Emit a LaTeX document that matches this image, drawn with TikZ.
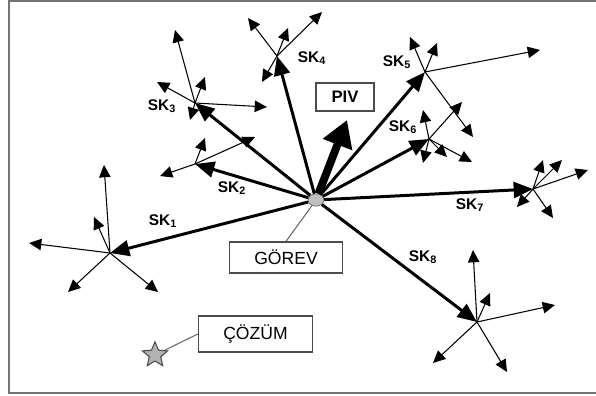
\documentclass[tikz,border=0pt]{standalone}
\usepackage{fontspec}
\setmainfont{Liberation Sans}
\usetikzlibrary{arrows.meta,shapes.geometric}

\begin{document}
\begin{tikzpicture}[x=0.02cm, y=-0.02cm,
    sk/.style={line width=1.7pt, -{Triangle[length=11pt,width=9pt]}},
    spoke/.style={line width=0.6pt, -{Triangle[length=7pt,width=6.5pt]}},
    sklabel/.style={font=\fontsize{8.8}{10}\selectfont\bfseries, inner sep=0},
    box/.style={draw=black!70, line width=0.7pt, font=\fontsize{10}{11}\selectfont, inner sep=0}]
            \useasboundingbox (0,0) rectangle (596,396);
            \draw[black!55, line width=0.8pt] (596,1) -- (9,1) -- (9,393) -- (596,393);
            % centre, boxes, star
            \node[ellipse, fill=black!25, draw=black!60, minimum width=9pt, minimum height=7pt, inner sep=0] (g) at (316,200) {};
            \node[box, minimum width=64.6pt, minimum height=17.6pt] (gorev) at (286,257.5) {GÖREV};
            \node[box, minimum width=33pt, minimum height=16pt, font=\fontsize{9.5}{10}\selectfont\bfseries] (piv) at (345,97) {PIV};
            \node[box, minimum width=65pt, minimum height=20.4pt] (cozum) at (255.5,334) {ÇÖZÜM};
            \node[star, star points=5, star point ratio=2.2, fill=black!30, draw=black!70, line width=0.6pt, minimum size=15pt, inner sep=0] (cozstar) at (155,355) {};
            % ends of the SK arrows
            \coordinate (c1) at (110,253);
            \coordinate (c2) at (195,164);
            \coordinate (c3) at (195,103);
            \coordinate (c4) at (277,56);
            \coordinate (c5) at (425,72);
            \coordinate (c6) at (429,139);
            \coordinate (c7) at (533,189);
            \coordinate (c8) at (477,322);
            \coordinate (pivtip) at (347,120);
            % spokes
            \foreach \x/\y [count=\i] in {104/165, 94/217, 29/243, 68/292, 158/292}
              {\coordinate (s1-\i) at (\x,\y); \draw[spoke] (c1) -- (s1-\i);}
            \foreach \x/\y [count=\i] in {160/176, 205/138, 255/137}
              {\coordinate (s2-\i) at (\x,\y); \draw[spoke] (c2) -- (s2-\i);}
            \foreach \x/\y [count=\i] in {175/30, 157/82, 205/77, 190/120, 267/107}
              {\coordinate (s3-\i) at (\x,\y); \draw[spoke] (c3) -- (s3-\i);}
            \foreach \x/\y [count=\i] in {248/18, 288/28, 322/12, 262/82}
              {\coordinate (s4-\i) at (\x,\y); \draw[spoke] (c4) -- (s4-\i);}
            \foreach \x/\y [count=\i] in {410/37, 437/43, 540/50, 473/137}
              {\coordinate (s5-\i) at (\x,\y); \draw[spoke] (c5) -- (s5-\i);}
            \foreach \x/\y [count=\i] in {423/110, 462/102, 423/163, 447/157, 472/162}
              {\coordinate (s6-\i) at (\x,\y); \draw[spoke] (c6) -- (s6-\i);}
            \foreach \x/\y [count=\i] in {543/160, 562/160, 588/170, 517/207, 553/218}
              {\coordinate (s7-\i) at (\x,\y); \draw[spoke] (c7) -- (s7-\i);}
            \foreach \x/\y [count=\i] in {473/250, 490/293, 555/305, 433/363, 507/372}
              {\coordinate (s8-\i) at (\x,\y); \draw[spoke] (c8) -- (s8-\i);}
            % SK arrows
            \foreach \i in {1,...,8}
              \draw[sk] (g) -- (c\i);
            \draw[line width=4.5pt, -{Triangle[length=15pt,width=17pt]}] (g) -- (pivtip);
            \draw[black!60, line width=0.6pt] (gorev.north) -- (g);
            \draw[black!60, line width=0.6pt] (cozum.west) -- (cozstar);
            % labels
            \node[sklabel] (l1) at (163,221) {SK\textsubscript{1}};
            \node[sklabel] (l2) at (232,188) {SK\textsubscript{2}};
            \node[sklabel] (l3) at (162,106) {SK\textsubscript{3}};
            \node[sklabel] (l4) at (312,58) {SK\textsubscript{4}};
            \node[sklabel] (l5) at (397,62) {SK\textsubscript{5}};
            \node[sklabel] (l6) at (403,127) {SK\textsubscript{6}};
            \node[sklabel] (l7) at (470,205) {SK\textsubscript{7}};
            \node[sklabel] (l8) at (423,257) {SK\textsubscript{8}};
\end{tikzpicture}
\end{document}
